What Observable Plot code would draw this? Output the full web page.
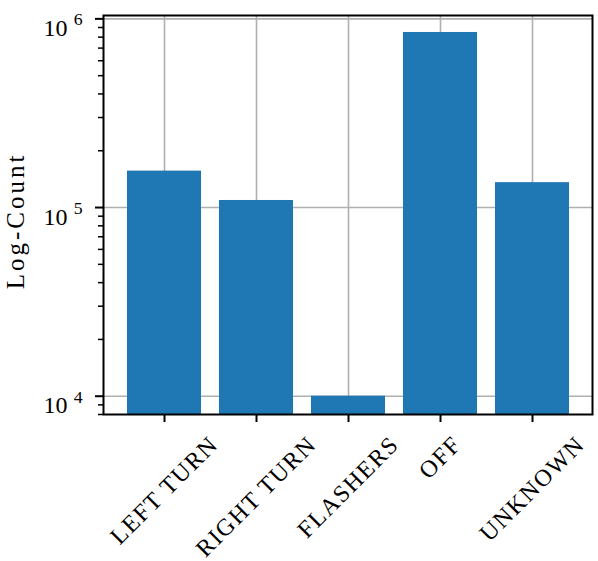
<!DOCTYPE html>
<html><head><meta charset="utf-8">
<script src="https://cdn.jsdelivr.net/npm/d3@7"></script>
<script src="https://cdn.jsdelivr.net/npm/@observablehq/plot@0.6"></script>
<style>
body{margin:0;background:#fff}
svg{font-family:"Liberation Serif",serif}
</style>
</head><body><div id="chart"></div>
<script>
const categories = ["LEFT TURN", "RIGHT TURN", "FLASHERS", "OFF", "UNKNOWN"];
const counts = [156000, 109000, 10000, 847000, 135500];
const majorTicks = [1e4, 1e5, 1e6];
const minorTicks = [8e3, 9e3, 2e4, 3e4, 4e4, 5e4, 6e4, 7e4, 8e4, 9e4, 2e5, 3e5, 4e5, 5e5, 6e5, 7e5, 8e5, 9e5];
const yDomain = [8000, 1042000];
const yLabel = "Log-Count";

const data = categories.map((c, i) => ({category: c, count: counts[i]}));

const chart = Plot.plot({
  width: 598, height: 561,
  marginLeft: 103, marginRight: 6, marginTop: 15, marginBottom: 147,
  style: {fontFamily: "Liberation Serif, serif", fontSize: "24px", color: "black", background: "white", overflow: "visible"},
  x: {domain: categories, paddingInner: 0.2, paddingOuter: 0.24, label: null},
  y: {type: "log", domain: yDomain, label: null},
  marks: [
    Plot.gridX(categories, {stroke: "#b0b0b0", strokeOpacity: 1, strokeWidth: 1.6}),
    Plot.gridY(majorTicks, {stroke: "#b0b0b0", strokeOpacity: 1, strokeWidth: 1.6}),
    Plot.barY(data, {x: "category", y1: yDomain[0], y2: "count", fill: "#1f77b4"}),
    Plot.frame({stroke: "black", strokeWidth: 2}),
    Plot.axisY(minorTicks, {tickSize: 5, text: null, strokeWidth: 1.5, label: null}),
    Plot.axisY(majorTicks, {tickSize: 8, tickPadding: 13, strokeWidth: 2, label: null,
      tickFormat: d => String(Math.round(Math.log10(d))), fontSize: 24}),
    Plot.axisX({tickSize: 8, tickPadding: 6, strokeWidth: 2, label: null, fontSize: 24}),
    Plot.text([yLabel], {frameAnchor: "left", dx: -80, dy: 6, rotate: -90, text: d => d,
      fontSize: 25, fill: "black", lineAnchor: "bottom", textAnchor: "middle"})
  ]
});
document.getElementById("chart").appendChild(chart);

// y tick labels as 10 with a superscript exponent
const ns = "http://www.w3.org/2000/svg";
chart.querySelectorAll('g[aria-label="y-axis tick label"] text').forEach(t => {
  const e = t.textContent;
  if (!e) return;
  t.textContent = "";
  const base = document.createElementNS(ns, "tspan");
  base.textContent = "10";
  const sup = document.createElementNS(ns, "tspan");
  sup.textContent = e;
  sup.setAttribute("dx", "0.35em");
  sup.setAttribute("dy", "-0.6em");
  sup.setAttribute("font-size", "0.74em");
  t.appendChild(base); t.appendChild(sup);
  t.setAttribute("dy", "0.4em");
});

// y label spacing
chart.querySelectorAll('g[aria-label="text"] text').forEach(t => {
  t.setAttribute("letter-spacing", "3px");
});

// x tick labels rotated 45deg, rotated box centred under its tick, top-aligned
const xs = chart.scale("x");
const svgRect = chart.getBoundingClientRect();
const labelTop = 431;
chart.querySelectorAll('g[aria-label="x-axis tick label"] text').forEach((t, i) => {
  const cat = categories[i];
  const cx = xs.apply(cat) + xs.bandwidth / 2;
  t.removeAttribute("dy");
  t.setAttribute("x", 0); t.setAttribute("y", 0);
  t.setAttribute("text-anchor", "middle");
  t.setAttribute("dy", "0.32em");
  t.setAttribute("letter-spacing", "1.5px");
  t.setAttribute("transform", `translate(${cx},0) rotate(-45)`);
  const r = t.getBoundingClientRect();
  const curCx = (r.left + r.right) / 2 - svgRect.left;
  const curTop = r.top - svgRect.top;
  t.setAttribute("transform", `translate(${cx + (cx - curCx)},${labelTop - curTop}) rotate(-45)`);
});
</script>
</body></html>
